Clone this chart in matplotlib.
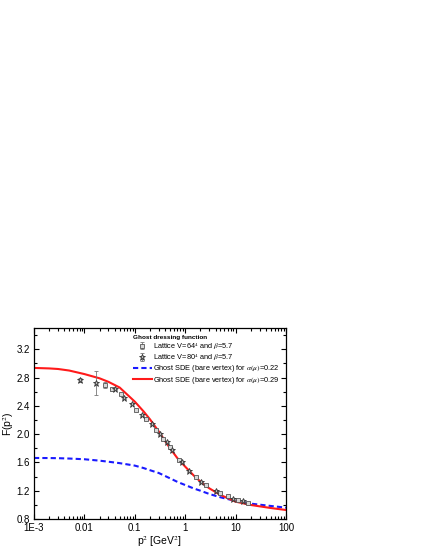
import numpy as np
import matplotlib.pyplot as plt
from matplotlib.ticker import MultipleLocator, LogLocator, NullFormatter, FixedLocator, FixedFormatter

plt.rcParams['font.family'] = ['Liberation Sans', 'DejaVu Sans']
plt.rcParams['mathtext.fontset'] = 'stix'

# SDE curves
p2_sde = [1e-3, 2e-3, 3e-3, 5e-3, 0.01, 0.02, 0.03, 0.05, 0.1, 0.15, 0.2, 0.3, 0.5, 0.7,
          1, 1.5, 2, 3, 5, 10, 20, 50, 100]
F_029 = [2.937, 2.93, 2.922, 2.90, 2.85, 2.79, 2.74, 2.66, 2.46, 2.32, 2.21, 2.036, 1.80, 1.66,
         1.54, 1.41, 1.33, 1.234, 1.14, 1.045, 0.998, 0.955, 0.927]
F_022 = [1.663, 1.662, 1.66, 1.655, 1.645, 1.625, 1.61, 1.59, 1.555, 1.52, 1.49, 1.45, 1.375, 1.325,
         1.28, 1.23, 1.20, 1.154, 1.107, 1.055, 1.017, 0.984, 0.96]

# lattice V=64^4
p2_64 = [0.0255, 0.0347, 0.053, 0.108, 0.17, 0.26, 0.37, 0.49, 0.76, 1.63, 2.57, 4.9, 7.0, 11, 18]
F_64 = [2.70, 2.635, 2.57, 2.34, 2.21, 2.06, 1.93, 1.82, 1.64, 1.40, 1.28, 1.17, 1.12, 1.07, 1.03]
err_64 = [0.04, 0.02, 0.01, 0.01, 0.01, 0.01, 0.01, 0.01, 0.01, 0.01, 0.01, 0.01, 0.01, 0.01, 0.01]

# lattice V=80^4
p2_80 = [0.00836, 0.0169, 0.04, 0.061, 0.086, 0.136, 0.216, 0.316, 0.43, 0.54, 0.85, 1.21, 2.05, 4.1, 9.0, 14]
F_80 = [2.767, 2.72, 2.635, 2.51, 2.43, 2.27, 2.14, 2.00, 1.89, 1.78, 1.60, 1.48, 1.32, 1.20, 1.08, 1.05]
err_80 = [0.03, 0.17, 0.01, 0.01, 0.01, 0.01, 0.01, 0.01, 0.01, 0.01, 0.01, 0.01, 0.01, 0.01, 0.01, 0.01]

fig = plt.figure(figsize=(4.25, 5.5), dpi=100)
ax = fig.add_axes([0.080, 0.0564, 0.593, 0.347])

h1 = ax.errorbar(p2_64, F_64, yerr=err_64, fmt='s', ms=3, mfc='#d8d8d8', mec='#555555',
                 mew=0.6, ecolor='#777777', elinewidth=0.6, capsize=1.5,
                 label=r'Lattice V=64$^4$ and $\beta$=5.7', zorder=3)
h2 = ax.errorbar(p2_80, F_80, yerr=err_80, fmt='*', ms=4.5, mfc='#bbbbbb', mec='#333333',
                 mew=0.6, ecolor='#777777', elinewidth=0.6, capsize=1.5,
                 label=r'Lattice V=80$^4$ and $\beta$=5.7', zorder=3)
h3, = ax.plot(p2_sde, F_022, '--', color='#1a1aff', lw=1.5, dashes=(2.5, 1.5),
              label=r'Ghost SDE (bare vertex) for $\alpha(\mu)$=0.22')
h4, = ax.plot(p2_sde, F_029, '-', color='#ff1a1a', lw=1.5,
              label=r'Ghost SDE (bare vertex) for $\alpha(\mu)$=0.29')

ax.set_xscale('log')
ax.set_xlim(1e-3, 100)
ax.set_ylim(0.8, 3.5)
ax.xaxis.set_major_locator(FixedLocator([1e-3, 1e-2, 1e-1, 1, 10, 100]))
ax.xaxis.set_major_formatter(FixedFormatter(['1E-3', '0.01', '0.1', '1', '10', '100']))
ax.xaxis.set_minor_locator(LogLocator(base=10, subs=np.arange(2, 10), numticks=20))
ax.xaxis.set_minor_formatter(NullFormatter())
ax.yaxis.set_major_locator(MultipleLocator(0.4))
ax.yaxis.set_minor_locator(MultipleLocator(0.2))
ax.yaxis.set_major_formatter(plt.FuncFormatter(lambda v, p: f'{v:.1f}'))

ax.tick_params(which='both', direction='in', top=True, right=True, labelsize=7, width=0.8)
ax.tick_params(which='major', length=3.5, pad=3)
ax.tick_params(which='minor', length=2)
for s in ax.spines.values():
    s.set_linewidth(0.9)

ax.set_xlabel(r'p$^2$ [GeV$^2$]', fontsize=7.5, labelpad=1)
ax.set_ylabel(r'F(p$^2$)', fontsize=7.5, labelpad=0)

leg = ax.legend(handles=[h1, h2, h3, h4], loc='upper left', bbox_to_anchor=(0.385, 0.97),
                frameon=False, fontsize=5.3,
                title='Ghost dressing function', title_fontproperties={'weight': 'bold', 'size': 4.6},
                handlelength=2.6, handletextpad=0.2, labelspacing=0.08, borderaxespad=0.0,
                borderpad=0.2)
leg._legend_box.align = 'left'

fig.savefig('out.png', dpi=100)
